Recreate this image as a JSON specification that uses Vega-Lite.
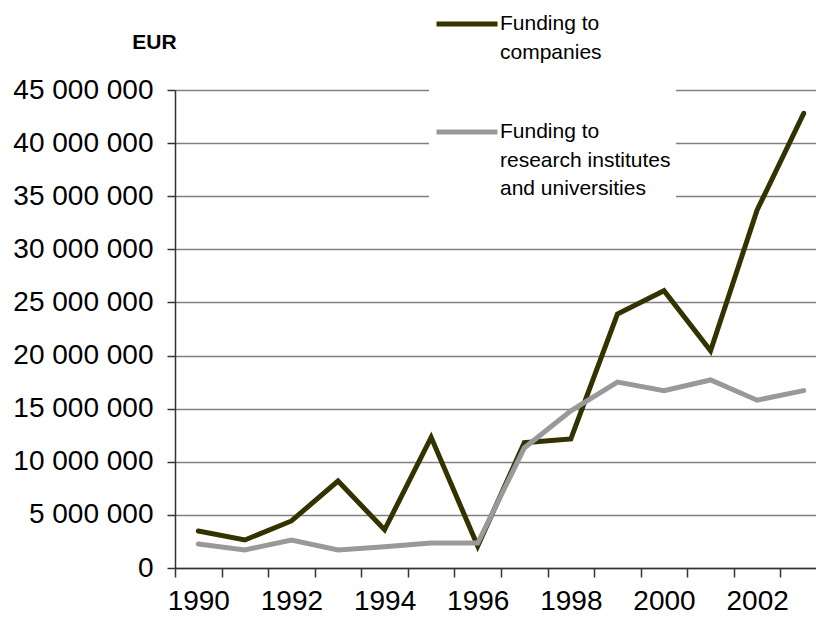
{
  "$schema": "https://vega.github.io/schema/vega-lite/v6.json",
  "width": 652,
  "height": 478,
  "autosize": {"type": "none"},
  "padding": {"left": 175, "top": 90, "right": 0, "bottom": 50},
  "background": "white",
  "config": {
    "font": "Liberation Sans",
    "view": {"stroke": null}
  },
  "data": {
    "values": [
      {"year": 1990, "series": "Funding to companies", "value": 3480000},
      {"year": 1991, "series": "Funding to companies", "value": 2640000},
      {"year": 1992, "series": "Funding to companies", "value": 4430000},
      {"year": 1993, "series": "Funding to companies", "value": 8190000},
      {"year": 1994, "series": "Funding to companies", "value": 3600000},
      {"year": 1995, "series": "Funding to companies", "value": 12300000},
      {"year": 1996, "series": "Funding to companies", "value": 2070000},
      {"year": 1997, "series": "Funding to companies", "value": 11800000},
      {"year": 1998, "series": "Funding to companies", "value": 12150000},
      {"year": 1999, "series": "Funding to companies", "value": 23900000},
      {"year": 2000, "series": "Funding to companies", "value": 26100000},
      {"year": 2001, "series": "Funding to companies", "value": 20450000},
      {"year": 2002, "series": "Funding to companies", "value": 33700000},
      {"year": 2003, "series": "Funding to companies", "value": 42800000},
      {"year": 1990, "series": "Funding to research institutes and universities", "value": 2260000},
      {"year": 1991, "series": "Funding to research institutes and universities", "value": 1700000},
      {"year": 1992, "series": "Funding to research institutes and universities", "value": 2640000},
      {"year": 1993, "series": "Funding to research institutes and universities", "value": 1700000},
      {"year": 1994, "series": "Funding to research institutes and universities", "value": 2000000},
      {"year": 1995, "series": "Funding to research institutes and universities", "value": 2350000},
      {"year": 1996, "series": "Funding to research institutes and universities", "value": 2350000},
      {"year": 1997, "series": "Funding to research institutes and universities", "value": 11300000},
      {"year": 1998, "series": "Funding to research institutes and universities", "value": 14800000},
      {"year": 1999, "series": "Funding to research institutes and universities", "value": 17500000},
      {"year": 2000, "series": "Funding to research institutes and universities", "value": 16700000},
      {"year": 2001, "series": "Funding to research institutes and universities", "value": 17700000},
      {"year": 2002, "series": "Funding to research institutes and universities", "value": 15800000},
      {"year": 2003, "series": "Funding to research institutes and universities", "value": 16700000}
    ]
  },
  "mark": {"type": "line", "strokeWidth": 5, "strokeCap": "round"},
  "encoding": {
    "x": {
      "field": "year",
      "type": "ordinal",
      "scale": {"paddingInner": 0, "paddingOuter": 0},
      "axis": {
        "title": null,
        "labelAngle": 0,
        "tickBand": "extent",
        "labelExpr": "datum.value % 2 == 0 ? datum.label : ''",
        "labelFontSize": 28,
        "labelColor": "black",
        "labelPadding": 10,
        "tickSize": 9,
        "tickColor": "#333333",
        "tickWidth": 1.5,
        "domainColor": "#333333",
        "domainWidth": 1.5,
        "grid": false,
        "labelFlush": false,
        "labelOverlap": false
      }
    },
    "y": {
      "field": "value",
      "type": "quantitative",
      "scale": {"domain": [0, 45000000], "nice": false},
      "axis": {
        "title": "EUR",
        "titleAngle": 0,
        "titleX": -21,
        "titleY": -48,
        "titleAlign": "center",
        "titleBaseline": "middle",
        "titleFontSize": 21,
        "titleFontWeight": "bold",
        "titleColor": "black",
        "values": [0, 5000000, 10000000, 15000000, 20000000, 25000000, 30000000, 35000000, 40000000, 45000000],
        "labelExpr": "replace(format(datum.value, ','), regexp(',', 'g'), ' ')",
        "labelFontSize": 28,
        "labelColor": "black",
        "labelPadding": 14,
        "tickSize": 8,
        "tickColor": "#333333",
        "tickWidth": 1.5,
        "domainColor": "#333333",
        "domainWidth": 1.5,
        "grid": true,
        "gridColor": "#808080",
        "gridWidth": 1.5
      }
    },
    "color": {
      "field": "series",
      "type": "nominal",
      "scale": {
        "domain": ["Funding to companies", "Funding to research institutes and universities"],
        "range": ["#333300", "#999999"]
      },
      "legend": {
        "title": null,
        "orient": "none",
        "legendX": 254,
        "legendY": -104,
        "fillColor": "white",
        "padding": 5,
        "symbolType": "stroke",
        "symbolStrokeWidth": 5,
        "symbolSize": 3721,
        "labelFontSize": 21,
        "labelColor": "black",
        "labelLimit": 400,
        "labelOffset": 0,
        "labelBaseline": "top",
        "rowPadding": 36,
        "labelExpr": "datum.label == 'Funding to companies' ? ['Funding to', 'companies'] : ['Funding to', 'research institutes', 'and universities']",
        "encode": {
          "labels": {"update": {"lineHeight": {"value": 28.5}, "dy": {"value": -11}}}
        }
      }
    }
  }
}
